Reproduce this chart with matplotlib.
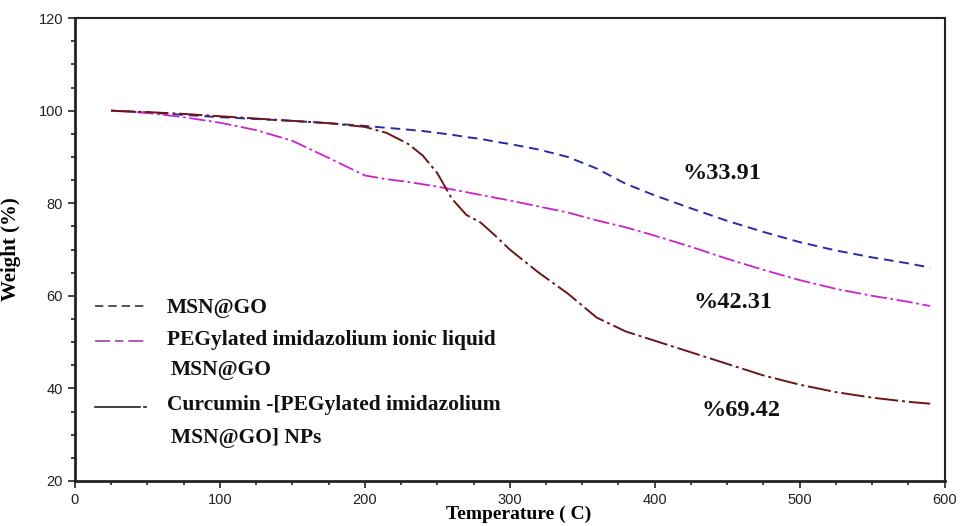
import numpy as np
import matplotlib.pyplot as plt
from matplotlib.ticker import MultipleLocator

# TGA data: temperature (C) and weight (%)
temp = [25, 50, 75, 100, 125, 150, 175, 200, 215, 230, 240, 250, 260, 270, 280,
        290, 300, 320, 340, 360, 380, 400, 425, 450, 475, 500, 525, 550, 575, 590]

w_msn_go = [100, 99.6, 99.1, 98.6, 98.2, 97.8, 97.3, 96.7, 96.3, 95.9, 95.6, 95.2,
            94.8, 94.3, 93.9, 93.3, 92.8, 91.6, 90.0, 87.5, 84.2, 81.7, 78.9, 76.2,
            73.8, 71.6, 69.8, 68.3, 67.0, 66.1]

w_peg = [100, 99.5, 98.6, 97.4, 95.8, 93.5, 89.8, 86.0, 85.2, 84.6, 84.1, 83.6,
         83.0, 82.4, 81.8, 81.2, 80.6, 79.3, 78.0, 76.3, 74.8, 73.0, 70.6, 68.0,
         65.6, 63.4, 61.5, 60.0, 58.7, 57.8]

w_cur = [100, 99.7, 99.3, 98.8, 98.3, 97.8, 97.3, 96.5, 95.2, 92.8, 90.3, 86.5,
         81.0, 77.5, 75.8, 73.0, 70.0, 65.0, 60.5, 55.3, 52.3, 50.3, 47.8, 45.3,
         42.8, 40.8, 39.2, 38.0, 37.1, 36.7]

loss_labels = ['%33.91', '%42.31', '%69.42']
loss_pos = [(0.699, 0.664), (0.711, 0.385), (0.721, 0.153)]

serif = ['Liberation Serif', 'DejaVu Serif']

fig = plt.figure(figsize=(9.6, 5.26), dpi=100)
ax = fig.add_axes([0.078, 0.0856, 0.906, 0.880])

ax.plot(temp, w_msn_go, color='#2a2aa8', lw=1.4, ls=(0, (5, 3)))
ax.plot(temp, w_peg, color='#cc22cc', lw=1.3, ls=(0, (9, 2, 1.5, 2)))
ax.plot(temp, w_cur, color='#6e1616', lw=1.4, ls=(0, (12, 2, 1.5, 2)))

ax.set_xlim(0, 600)
ax.set_ylim(20, 120)
ax.xaxis.set_major_locator(MultipleLocator(100))
ax.xaxis.set_minor_locator(MultipleLocator(25))
ax.yaxis.set_major_locator(MultipleLocator(20))
ax.yaxis.set_minor_locator(MultipleLocator(5))
ax.tick_params(which='both', direction='out', top=False, right=False,
               labelsize=10.5, width=1.2, colors='#222222')
ax.tick_params(which='major', length=5)
ax.tick_params(which='minor', length=3)
for lbl in ax.get_xticklabels() + ax.get_yticklabels():
    lbl.set_family(['Liberation Sans', 'DejaVu Sans'])

for s in ['left', 'bottom']:
    ax.spines[s].set_linewidth(2.0)
for s in ['top', 'right']:
    ax.spines[s].set_linewidth(1.5)
for s in ax.spines.values():
    s.set_color('#222222')

ax.set_xlabel('Temperature ( C)', family=serif, fontweight='bold', fontsize=14)
ax.set_ylabel('Weight (%)', family=serif, fontweight='bold', fontsize=15)
ax.xaxis.set_label_coords(0.51, -0.073)
ax.xaxis.label.set_va('center')
ax.yaxis.set_label_coords(-0.062, 0.5)

# hand-made legend
tr = ax.transAxes
ax.plot([0.023, 0.080], [0.378, 0.378], transform=tr, color='#333344',
        lw=1.2, ls=(0, (5, 3)))
ax.plot([0.023, 0.082], [0.302, 0.302], transform=tr, color='#a040a0',
        lw=1.2, ls=(0, (9, 3, 5, 3)))
ax.plot([0.023, 0.075], [0.160, 0.160], transform=tr, color='#222222', lw=1.2)
ax.plot([0.080, 0.082], [0.160, 0.160], transform=tr, color='#222222', lw=1.2)

leg_kw = dict(transform=tr, family=serif, fontweight='bold', fontsize=15.5,
              va='center', ha='left', color='#111111')
ax.text(0.106, 0.374, 'MSN@GO', **leg_kw)
ax.text(0.106, 0.305, 'PEGylated imidazolium ionic liquid', **leg_kw)
ax.text(0.110, 0.240, 'MSN@GO', **leg_kw)
ax.text(0.106, 0.164, 'Curcumin -[PEGylated imidazolium', **leg_kw)
ax.text(0.110, 0.093, 'MSN@GO] NPs', **leg_kw)

for txt, (x, y) in zip(loss_labels, loss_pos):
    ax.text(x, y, txt, transform=tr, family=serif, fontweight='bold',
            fontsize=17.5, va='center', ha='left', color='#111111')

fig.savefig('out.png', dpi=100)
